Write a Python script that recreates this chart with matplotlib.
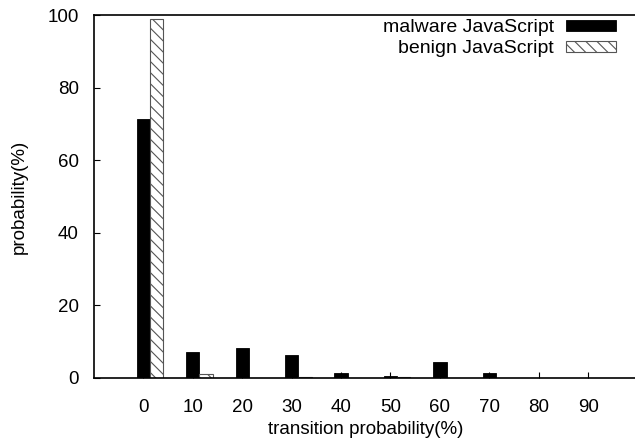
import matplotlib
matplotlib.use("Agg")
import matplotlib.pyplot as plt
import numpy as np

plt.rcParams['font.family'] = ['Liberation Sans', 'DejaVu Sans']
plt.rcParams['hatch.linewidth'] = 0.8
plt.rcParams['hatch.color'] = '#555555'

categories = ["0", "10", "20", "30", "40", "50", "60", "70", "80", "90"]
malware = [71.3, 7.3, 8.4, 6.2, 1.3, 0.6, 4.5, 1.3, 0.0, 0.0]
benign = [98.8, 1.2, 0.0, 0.3, 0.0, 0.3, 0.0, 0.0, 0.0, 0.0]
yticks = [0, 20, 40, 60, 80, 100]

fig = plt.figure(figsize=(6.35, 4.43), dpi=100)
ax = fig.add_axes([94/635, 65/443, 1 - 94/635 + 0.004, (378-15)/443])

x = np.arange(len(categories))
w = 0.27
ax.bar(x, malware, w, color='black', edgecolor='black', linewidth=0.6,
       label='malware JavaScript')
ax.bar(x + w, benign, w, color='white', edgecolor='#555555', linewidth=0.8,
       hatch='\\\\\\', label='benign JavaScript')

ax.set_xlim(-1, 10)
ax.set_ylim(0, 100)
ax.set_xticks(x)
ax.set_xticklabels(categories)
ax.set_yticks(yticks)
ax.tick_params(direction='in', length=4, width=0.8, labelsize=13.5, pad=11)
ax.tick_params(axis='x', pad=15)
for s in ['left', 'bottom', 'top']:
    ax.spines[s].set_linewidth(1.2)
ax.spines['right'].set_visible(False)

ax.set_xlabel('transition probability(%)', fontsize=13.5, labelpad=4)
ax.set_ylabel('probability(%)', fontsize=13.5, labelpad=14)

leg = ax.legend(loc='upper right', bbox_to_anchor=(0.975, 1.01), frameon=False,
                markerfirst=False, fontsize=14, handlelength=2.6,
                handleheight=0.5, labelspacing=0.22, handletextpad=0.6,
                borderaxespad=0.0)

fig.savefig('out.png', dpi=100)
